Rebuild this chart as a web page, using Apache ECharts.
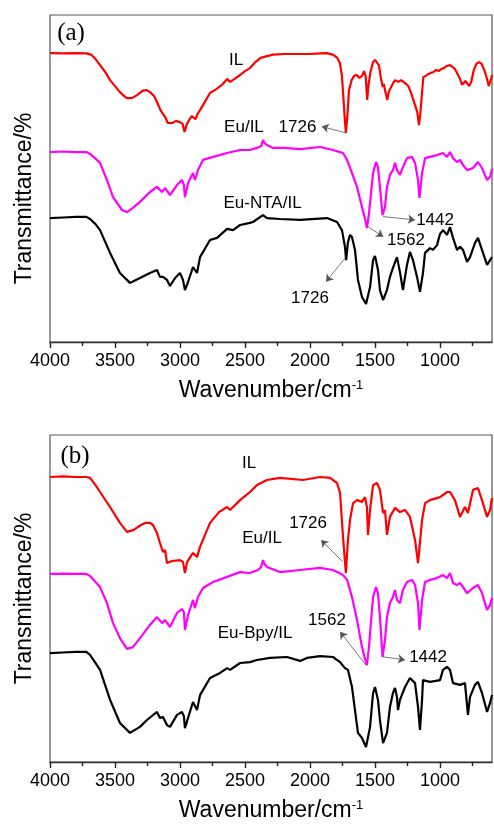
<!DOCTYPE html>
<html><head><meta charset="utf-8">
<script src="https://cdn.jsdelivr.net/npm/echarts@6/dist/echarts.min.js"></script>
<style>html,body{margin:0;padding:0;background:#fff}#c{width:494px;height:825px}</style>
</head><body><div id="c"></div>
<script>
// ---- data: [wavenumber (cm-1), transmittance (a.u.)] ----
const ilA = [[4000,96.3],[3900,96.2],[3800,96.3],[3720,96.2],[3680,95.7],[3650,94.3],[3615,92.3],[3575,90.0],[3538,87.3],[3500,85.3],[3462,83.3],[3430,82.0],[3408,81.3],[3370,81.3],[3330,82.3],[3290,83.7],[3260,84.0],[3230,83.3],[3200,82.0],[3177,80.0],[3150,77.3],[3135,76.3],[3125,76.7],[3110,74.7],[3095,73.0],[3060,73.0],[3030,73.7],[3000,73.3],[2980,72.7],[2965,70.0],[2950,72.3],[2930,74.0],[2910,75.3],[2895,75.0],[2880,74.3],[2865,76.0],[2846,77.3],[2800,80.7],[2769,83.0],[2720,84.3],[2670,86.0],[2638,87.7],[2615,86.7],[2580,87.7],[2538,89.0],[2500,90.3],[2462,91.3],[2420,93.3],[2380,94.7],[2330,95.3],[2285,95.8],[2200,96.0],[2100,96.0],[2000,96.0],[1920,96.2],[1869,96.3],[1820,95.7],[1790,94.7],[1770,93.0],[1755,89.0],[1742,80.7],[1732,74.0],[1724,69.7],[1712,75.7],[1700,84.0],[1680,87.3],[1660,88.7],[1640,89.0],[1620,88.0],[1600,88.7],[1585,90.3],[1572,88.7],[1560,80.7],[1550,85.7],[1535,90.0],[1515,93.3],[1500,94.0],[1485,93.7],[1470,92.3],[1455,88.0],[1440,85.0],[1432,86.0],[1420,83.3],[1405,80.7],[1395,83.3],[1380,84.7],[1360,86.3],[1346,87.3],[1320,86.7],[1300,87.3],[1282,86.7],[1260,86.0],[1244,85.3],[1225,83.3],[1205,80.7],[1190,78.7],[1175,76.7],[1162,72.3],[1152,75.7],[1140,82.3],[1128,88.3],[1110,88.7],[1090,89.3],[1070,89.7],[1050,90.0],[1030,90.7],[1010,90.3],[990,91.0],[970,91.3],[950,92.0],[935,91.7],[923,92.3],[905,91.7],[885,91.0],[865,89.3],[846,87.7],[830,85.7],[821,85.3],[805,87.0],[790,87.3],[775,85.3],[760,86.7],[740,90.7],[720,92.7],[700,93.3],[680,92.7],[660,90.7],[640,88.0],[625,85.3],[615,85.0],[605,88.0],[600,89.0]];

const euIlA = [[4000,63.3],[3900,63.5],[3800,63.3],[3720,63.3],[3692,62.7],[3654,61.3],[3615,59.7],[3562,54.0],[3515,48.3],[3446,44.0],[3408,43.3],[3362,44.7],[3308,46.7],[3231,50.0],[3177,51.7],[3138,50.0],[3115,51.3],[3077,49.0],[3023,52.3],[2985,54.0],[2970,52.3],[2962,48.3],[2938,53.0],[2900,56.3],[2885,54.0],[2862,57.3],[2823,60.7],[2746,61.7],[2638,63.0],[2538,64.0],[2462,64.0],[2408,64.7],[2375,65.3],[2362,67.3],[2350,66.3],[2331,65.7],[2285,64.7],[2200,64.7],[2077,64.3],[1923,65.0],[1823,64.0],[1769,63.3],[1746,63.0],[1715,60.7],[1677,56.3],[1638,51.7],[1600,45.0],[1575,40.7],[1562,38.0],[1545,43.3],[1538,46.3],[1515,56.3],[1492,60.0],[1477,58.3],[1462,51.7],[1442,42.3],[1423,45.0],[1408,51.7],[1385,55.7],[1362,57.3],[1346,59.7],[1331,57.3],[1308,55.7],[1285,58.3],[1254,61.3],[1215,61.7],[1192,59.7],[1169,54.0],[1158,48.0],[1138,56.3],[1115,61.3],[1077,61.7],[1023,62.3],[977,63.0],[946,61.7],[923,63.3],[900,61.3],[869,60.0],[846,60.7],[823,59.0],[792,57.3],[746,58.0],[708,60.0],[677,58.0],[638,54.0],[615,55.0],[600,57.7]];

const euNtaIlA = [[4000,41.3],[3900,41.5],[3800,41.7],[3720,41.7],[3692,41.0],[3650,39.3],[3615,37.3],[3538,29.7],[3462,23.0],[3385,19.7],[3308,21.3],[3231,23.0],[3177,24.0],[3154,21.7],[3131,21.7],[3100,20.7],[3077,18.7],[3038,21.3],[3000,23.0],[2977,20.7],[2962,17.3],[2938,20.0],[2900,25.0],[2869,23.0],[2846,28.3],[2769,34.0],[2715,34.7],[2638,37.7],[2592,37.3],[2538,39.0],[2462,39.7],[2438,40.0],[2362,42.3],[2331,41.3],[2231,41.0],[2077,40.7],[1869,41.3],[1792,40.0],[1754,37.3],[1731,31.7],[1722,27.3],[1708,33.3],[1692,35.7],[1677,35.0],[1654,30.7],[1631,20.7],[1600,15.0],[1569,12.7],[1538,18.3],[1515,27.3],[1500,28.7],[1477,24.0],[1462,17.3],[1438,14.0],[1408,17.3],[1385,21.7],[1362,24.7],[1331,28.3],[1308,23.3],[1285,17.3],[1254,25.7],[1231,30.0],[1208,27.3],[1177,21.7],[1154,16.7],[1131,23.0],[1115,29.7],[1077,31.3],[1054,30.7],[1023,32.3],[1000,36.0],[977,37.3],[946,35.7],[923,38.3],[900,34.7],[869,30.7],[846,31.7],[823,30.7],[792,26.7],[769,28.3],[731,33.0],[708,34.7],[677,30.7],[638,25.7],[615,27.3],[600,28.3]];

const ilB = [[4000,95.0],[3900,95.2],[3800,95.0],[3720,95.0],[3692,94.7],[3650,92.3],[3615,90.0],[3538,85.0],[3462,79.7],[3408,76.7],[3360,77.3],[3300,79.0],[3269,79.7],[3230,79.7],[3208,79.0],[3177,76.3],[3154,73.0],[3131,70.0],[3115,70.7],[3100,66.3],[3060,67.0],[3000,67.3],[2977,66.7],[2962,63.0],[2945,66.7],[2900,69.7],[2869,68.3],[2846,71.7],[2769,79.7],[2700,83.3],[2638,85.0],[2615,84.0],[2538,87.3],[2462,90.0],[2408,92.3],[2331,94.0],[2231,94.7],[2054,94.0],[1923,95.0],[1846,94.7],[1792,93.0],[1769,89.7],[1746,75.0],[1724,63.0],[1708,74.0],[1692,80.7],[1669,86.3],[1638,87.3],[1600,86.7],[1577,88.3],[1562,85.0],[1554,75.7],[1538,84.0],[1515,92.3],[1485,93.0],[1462,90.7],[1438,83.0],[1423,84.0],[1408,75.7],[1385,81.7],[1346,84.7],[1308,83.3],[1269,84.0],[1231,81.7],[1192,74.0],[1169,66.3],[1138,80.7],[1115,86.3],[1077,87.3],[1000,88.3],[946,90.0],[923,90.0],[885,87.3],[846,81.7],[808,85.0],[785,83.0],[746,90.7],[708,91.3],[677,87.3],[638,81.7],[615,84.0],[600,88.0]];

const euIlB = [[4000,62.7],[3900,62.8],[3800,62.7],[3720,62.7],[3692,62.0],[3615,58.3],[3562,53.0],[3515,46.3],[3462,41.3],[3408,37.7],[3362,38.3],[3308,41.3],[3231,45.7],[3177,48.3],[3138,46.3],[3115,47.3],[3077,45.0],[3023,49.7],[2985,51.0],[2970,50.0],[2962,44.0],[2938,49.0],[2900,54.0],[2885,51.3],[2862,55.0],[2823,58.0],[2746,60.0],[2638,61.7],[2538,63.3],[2462,63.0],[2400,64.0],[2375,65.0],[2362,67.3],[2350,66.0],[2331,65.0],[2231,63.3],[2077,64.0],[1923,64.7],[1823,64.0],[1746,62.3],[1715,60.7],[1677,55.0],[1638,47.3],[1600,38.3],[1575,34.0],[1562,32.3],[1545,39.0],[1538,43.0],[1515,55.0],[1492,58.3],[1477,56.3],[1462,48.3],[1442,35.0],[1423,40.7],[1408,48.3],[1385,53.0],[1362,55.0],[1346,57.3],[1331,54.0],[1308,53.0],[1285,57.3],[1254,60.0],[1215,60.7],[1192,59.0],[1169,53.0],[1158,44.0],[1138,54.0],[1115,60.0],[1077,60.7],[1023,61.3],[977,62.3],[946,61.3],[923,63.0],[900,59.7],[869,59.0],[846,59.7],[823,58.3],[792,56.3],[746,58.0],[708,59.0],[677,56.3],[638,50.7],[615,52.3],[600,54.7]];

const euBpyIlB = [[4000,36.3],[3900,36.5],[3800,36.7],[3720,36.7],[3692,35.7],[3615,30.7],[3538,20.7],[3462,13.0],[3385,9.7],[3308,11.7],[3254,14.0],[3177,16.7],[3154,14.7],[3131,15.0],[3100,12.3],[3077,11.7],[3023,15.7],[2985,16.7],[2970,15.3],[2962,11.3],[2938,14.7],[2900,20.0],[2869,17.3],[2846,22.3],[2769,28.0],[2692,29.7],[2638,31.3],[2615,30.7],[2538,33.0],[2462,33.3],[2408,34.0],[2308,34.7],[2177,35.0],[2077,33.7],[2023,34.7],[1923,35.3],[1823,35.0],[1769,33.3],[1731,31.3],[1708,30.7],[1677,25.0],[1654,17.3],[1631,9.7],[1600,8.0],[1569,5.0],[1538,11.7],[1515,23.0],[1500,25.0],[1477,20.7],[1462,14.0],[1438,6.3],[1408,9.7],[1385,18.3],[1362,23.0],[1346,24.7],[1331,21.7],[1323,17.3],[1308,20.7],[1269,25.0],[1231,28.0],[1192,26.3],[1169,18.3],[1154,10.7],[1138,20.7],[1131,27.3],[1077,26.7],[1000,27.3],[977,30.7],[946,31.7],[923,30.7],[900,26.3],[846,25.7],[808,26.3],[785,15.7],[769,21.7],[731,25.7],[708,26.7],[677,23.0],[638,16.7],[615,19.7],[600,22.3]];

// axis ticks
const majorTicks = [4000, 3500, 3000, 2500, 2000, 1500, 1000];
const minorTicks = [3750, 3250, 2750, 2250, 1750, 1250, 750];

// annotations [text, wavenumber, value]
const notesA = [['IL',2569,94],['Eu/IL',2508,71.7],['1726',2096,71.7],['Eu-NTA/IL',2365,46.3],['1442',1038,40.7],['1562',1262,34],['1726',2000,14.7]];
const notesB = [['IL',2469,99.7],['Eu/IL',2369,74.7],['1726',2015,79.7],['Eu-Bpy/IL',2423,43],['1562',1869,47.3],['1442',1092,35]];
const panelTags = [['(a)',3838,103],['(b)',3808,101.7]];
// arrows [from (peak), to (label)]
const arrowsA = [[[1722,69.7],[1910,71.8]],[[1438,41.8],[1192,40.7]],[[1552,38.4],[1436,35.1]],[[1731,27.9],[1877,20.1]]];
const arrowsB = [[[1749,66.8],[1915,74]],[[1569,32.3],[1769,43.4]],[[1441,35.1],[1269,34]]];

const FONT = 'Liberation Sans, Arial, sans-serif';
const chart = echarts.init(document.getElementById('c'), null, {renderer:'canvas'});

const grids = [0,1].map(i => ({
  left: 50, top: i === 0 ? 15 : 435, width: 442, height: 327,
  show: true, borderColor: '#555', borderWidth: 1.2, outerBoundsMode: 'none', containLabel: false
}));

const xAxes = [];
[0,1].forEach(i => {
  xAxes.push({
    type: 'value', gridIndex: i, inverse: true, min: 600, max: 4000, position: 'bottom',
    axisLine: {show: true, lineStyle: {color: '#333', width: 1.3}},
    axisTick: {show: true, customValues: majorTicks, length: 6, lineStyle: {color: '#222', width: 1.4}},
    axisLabel: {show: true, customValues: majorTicks, formatter: v => String(v), fontSize: 18, color: '#000', fontFamily: FONT, margin: 10},
    splitLine: {show: false},
    name: 'Wavenumber/cm{sup|-1}', nameLocation: 'middle', nameGap: 37,
    nameTextStyle: {fontSize: 23, color: '#000', fontFamily: FONT,
      rich: {sup: {fontSize: 13, verticalAlign: 'top', lineHeight: 14, padding: [0,0,10,0], color:'#000', fontFamily: FONT}}}
  });
  xAxes.push({
    type: 'value', gridIndex: i, inverse: true, min: 600, max: 4000, position: 'bottom',
    axisLine: {show: false},
    axisTick: {show: true, customValues: minorTicks, length: 4, lineStyle: {color: '#222', width: 1.4}},
    axisLabel: {show: false}, splitLine: {show: false}
  });
});

const yAxes = [0,1].map(i => ({
  type: 'value', gridIndex: i, min: 0, max: 109,
  axisLine: {show: false}, axisTick: {show: false}, axisLabel: {show: false}, splitLine: {show: false},
  name: 'Transmittance/%', nameLocation: 'middle', nameGap: 14,
  nameTextStyle: {fontSize: 23, color: '#000', fontFamily: FONT, padding: i === 0 ? [0,40,0,0] : 0}
}));

function lineSeries(data, color, gi) {
  return {type: 'line', data, xAxisIndex: gi * 2, yAxisIndex: gi, showSymbol: false, symbol: 'none',
    lineStyle: {color, width: 2.2}, itemStyle: {color}, silent: true, z: 3};
}

function annotate(series, notes, tag, arrows) {
  const pts = notes.map(n => ({name: n[0], coord: [n[1], n[2]]}));
  pts.push({name: tag[0], coord: [tag[1], tag[2]],
    label: {fontFamily: 'Liberation Serif, Times New Roman, serif', fontSize: 25}});
  series.markPoint = {
    symbol: 'circle', symbolSize: 1, itemStyle: {color: 'rgba(0,0,0,0)'}, silent: true,
    label: {show: true, position: 'inside', formatter: p => p.name, color: '#000', fontSize: 17, fontFamily: FONT},
    data: pts
  };
  series.markLine = {
    symbol: ['none', 'arrow'], symbolSize: 7, silent: true,
    lineStyle: {color: '#555', width: 0.8, type: 'solid'}, label: {show: false},
    data: arrows.map(a => [{coord: a[0]}, {coord: a[1]}])
  };
  return series;
}

const sA3 = annotate(lineSeries(euNtaIlA, '#000000', 0), notesA, panelTags[0], arrowsA);
const sB3 = annotate(lineSeries(euBpyIlB, '#000000', 1), notesB, panelTags[1], arrowsB);

chart.setOption({
  animation: false,
  backgroundColor: '#fff',
  grid: grids,
  xAxis: xAxes,
  yAxis: yAxes,
  series: [
    lineSeries(ilA, '#ff0000', 0), lineSeries(euIlA, '#ff00ff', 0), sA3,
    lineSeries(ilB, '#ff0000', 1), lineSeries(euIlB, '#ff00ff', 1), sB3
  ]
});
</script></body></html>
